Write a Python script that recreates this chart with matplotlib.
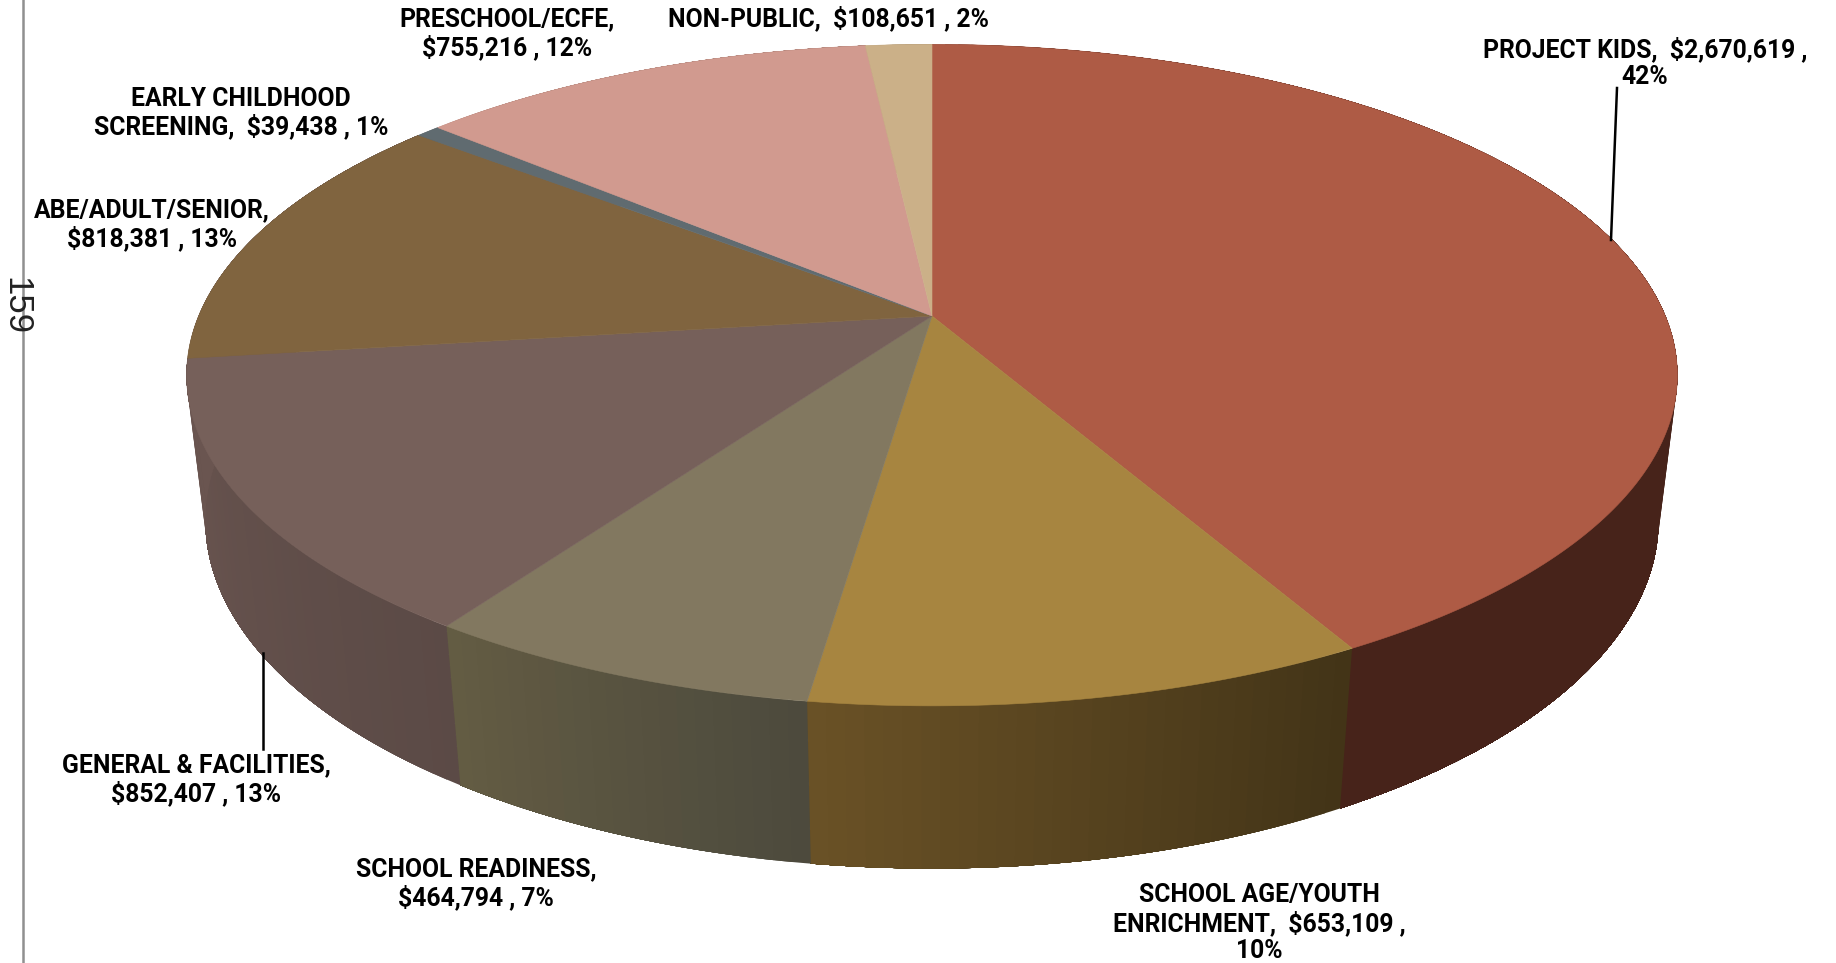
import numpy as np
import matplotlib
matplotlib.use("Agg")
import matplotlib.pyplot as plt

categories = ["PROJECT KIDS", "SCHOOL AGE/YOUTH ENRICHMENT", "SCHOOL READINESS",
              "GENERAL & FACILITIES", "ABE/ADULT/SENIOR", "EARLY CHILDHOOD SCREENING",
              "PRESCHOOL/ECFE", "NON-PUBLIC"]
values = [2670619, 653109, 464794, 852407, 818381, 39438, 755216, 108651]
top_colors = ["#AE5B45", "#A78540", "#827860", "#76605A", "#80643F", "#606B70", "#D19A8F", "#CBB088"]
wall_start = ["#47231A", "#423317", "#4C4A3D", "#5B4A46", "#6A5550", "#4A5256", "#A07A70", "#9A8566"]
wall_end = ["#47231A", "#6A5226", "#645C43", "#6A5550", "#6A5550", "#4A5256", "#A07A70", "#9A8566"]

labels = ["PROJECT KIDS,  $2,670,619 ,\n42%",
          "SCHOOL AGE/YOUTH\nENRICHMENT,  $653,109 ,\n10%",
          "SCHOOL READINESS,\n$464,794 , 7%",
          "GENERAL & FACILITIES,\n$852,407 , 13%",
          "ABE/ADULT/SENIOR,\n$818,381 , 13%",
          "EARLY CHILDHOOD\nSCREENING,  $39,438 , 1%",
          "PRESCHOOL/ECFE,\n$755,216 , 12%",
          "NON-PUBLIC,  $108,651 , 2%"]
label_x = [1645, 1259, 476, 196, 152, 241, 507, 828]
label_y = [63, 923, 884, 780, 225, 113, 34, 18]

APEX_X, APEX_Y = 932.0, 316.0
F, G, K = 733.4, 320.2, 0.1787
DEPTH_W, DEPTH_Y = 0.025, 147.4


def project(theta, lower=False):
    u, v = np.sin(theta), np.cos(theta)
    w = 1 + K * v + (DEPTH_W if lower else 0)
    y = G * v - (DEPTH_Y if lower else 0)
    return APEX_X + F * u / w, APEX_Y - y / w


def hex_rgb(c):
    return np.array(matplotlib.colors.to_rgb(c))


fig = plt.figure(figsize=(18.36, 9.63), dpi=100)
ax = fig.add_axes([0, 0, 1, 1])
ax.set_xlim(0, 1836)
ax.set_ylim(963, 0)
ax.axis("off")

edges = np.concatenate([[0], np.cumsum(values)]) / np.sum(values) * 2 * np.pi

# side walls: banded shading, each band running on under the next one
for i in range(len(values)):
    n = max(1, int((edges[i + 1] - edges[i]) / np.radians(1.2)))
    t = np.linspace(edges[i], edges[i + 1], n + 1)
    for j in range(n):
        frac = (j + 0.5) / n
        col = hex_rgb(wall_start[i]) * (1 - frac) + hex_rgb(wall_end[i]) * frac
        seg = np.linspace(t[j], t[n], 40)
        xu, yu = project(seg)
        xl, yl = project(seg, lower=True)
        ax.fill(np.r_[xu, xl[::-1]], np.r_[yu, yl[::-1]], color=col, lw=0, zorder=2 + i * 0.01)

# top surface
for i in range(len(values)):
    t = np.linspace(edges[i], edges[i + 1], 200)
    x, y = project(t)
    ax.fill(np.r_[APEX_X, x], np.r_[APEX_Y, y], color=top_colors[i], lw=0.4, zorder=3)

# leader lines
ax.plot([262.5, 262.5], [653, 749], color="black", lw=1.8, zorder=4)
ax.plot([1617, 1611], [88, 240], color="black", lw=1.8, zorder=4)

# left page rule and page number
ax.plot([23, 23], [0, 963], color="#909090", lw=1.8, zorder=1)
ax.text(16, 306, "159", rotation=270, ha="center", va="center",
        family="Liberation Sans", fontsize=25, color="#222222", zorder=5)

for s, x, y in zip(labels, label_x, label_y):
    ax.text(x, y, s, ha="center", va="center", family="Roboto",
            weight="bold", fontsize=17.8, linespacing=1.15, color="black", zorder=6)

fig.savefig("out.png", dpi=100)
